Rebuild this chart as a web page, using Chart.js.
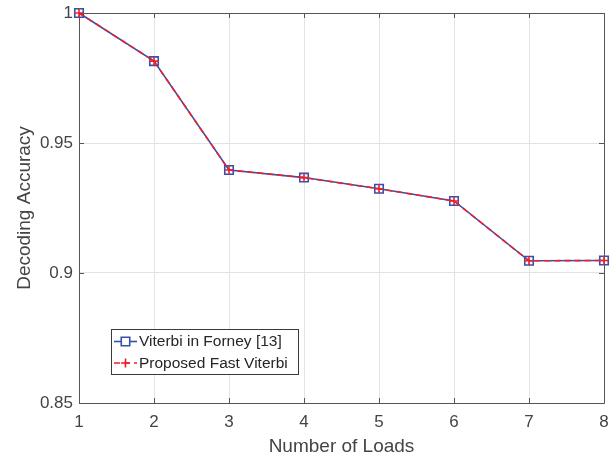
<!DOCTYPE html>
<html>
<head>
<meta charset="utf-8">
<script src="https://cdn.jsdelivr.net/npm/chart.js@4.4.1/dist/chart.umd.min.js"></script>
<style>
  html, body { margin: 0; padding: 0; background: #fff; }
</style>
</head>
<body>
<canvas id="chart" width="616" height="458"></canvas>
<script>
// values
const loads = [1, 2, 3, 4, 5, 6, 7, 8];
const viterbiForney = [1.0, 0.9815, 0.9396, 0.9367, 0.9324, 0.9277, 0.9047, 0.9048];
const fastViterbi = [1.0, 0.9815, 0.9396, 0.9367, 0.9324, 0.9277, 0.9047, 0.9048];
const seriesNames = ['Viterbi in Forney [13]', 'Proposed Fast Viterbi'];
const xTicks = [1, 2, 3, 4, 5, 6, 7, 8];
const yTicks = [0.85, 0.9, 0.95, 1];
const yTickLabels = ['0.85', '0.9', '0.95', '1'];

const blue = 'rgb(52, 82, 172)';
const red = 'rgb(240, 30, 40)';
const axisColor = '#555555';
const textColor = '#444444';
const fontFamily = '"Liberation Sans", Arial, Helvetica, sans-serif';

const ctx = document.getElementById('chart').getContext('2d');

function toPoints(xs, ys) {
  return xs.map((x, i) => ({ x: x, y: ys[i] }));
}

// box round the axes and inward tick marks, like the original
const framePlugin = {
  id: 'frame',
  beforeDatasetsDraw(chart) {
    const { ctx, chartArea: a, scales } = chart;
    const len = 5;
    ctx.save();
    ctx.strokeStyle = axisColor;
    ctx.lineWidth = 1;
    ctx.beginPath();
    ctx.rect(Math.round(a.left) + 0.5, Math.round(a.top) + 0.5,
             Math.round(a.right - a.left), Math.round(a.bottom - a.top));
    xTicks.forEach(v => {
      const px = Math.round(scales.x.getPixelForValue(v)) + 0.5;
      ctx.moveTo(px, a.bottom); ctx.lineTo(px, a.bottom - len);
      ctx.moveTo(px, a.top); ctx.lineTo(px, a.top + len);
    });
    yTicks.forEach(v => {
      const py = Math.round(scales.y.getPixelForValue(v)) + 0.5;
      ctx.moveTo(a.left, py); ctx.lineTo(a.left + len, py);
      ctx.moveTo(a.right, py); ctx.lineTo(a.right - len, py);
    });
    ctx.stroke();
    ctx.restore();
  }
};

// legend box sitting inside the plot, lower left
const legendPlugin = {
  id: 'insideLegend',
  afterDatasetsDraw(chart) {
    const c = chart.ctx;
    const box = { x: 111.5, y: 329.5, w: 187, h: 45 };
    c.save();
    c.fillStyle = '#ffffff';
    c.strokeStyle = '#3a3a3a';
    c.lineWidth = 1;
    c.fillRect(box.x, box.y, box.w, box.h);
    c.strokeRect(box.x, box.y, box.w, box.h);
    const rows = [341.5, 363];
    chart.data.datasets.forEach((ds) => {
      const idx = seriesNames.indexOf(ds.label);
      const y = rows[idx];
      c.save();
      c.strokeStyle = ds.borderColor;
      c.lineWidth = ds.borderWidth;
      c.setLineDash(ds.borderDash || []);
      c.beginPath();
      c.moveTo(114, y); c.lineTo(137, y);
      c.stroke();
      c.setLineDash([]);
      c.lineWidth = ds.pointBorderWidth;
      Chart.helpers.drawPoint(c, { pointStyle: ds.pointStyle, rotation: 0, radius: ds.pointRadius, borderWidth: ds.pointBorderWidth }, 125.5, y);
      c.restore();
      c.fillStyle = '#262626';
      c.font = '15.5px ' + fontFamily;
      c.textBaseline = 'middle';
      c.textAlign = 'left';
      c.fillText(ds.label, 139, y + 0.5);
    });
    c.restore();
  }
};

const chart = new Chart(ctx, {
  type: 'line',
  data: {
    datasets: [
      {
        label: seriesNames[0],
        data: toPoints(loads, viterbiForney),
        borderColor: blue,
        backgroundColor: 'transparent',
        borderWidth: 1.6,
        pointStyle: 'rect',
        pointRadius: 6,
        pointBorderWidth: 1.6,
        pointBorderColor: blue,
        pointBackgroundColor: 'transparent',
        fill: false,
        tension: 0,
        clip: false,
        order: 2
      },
      {
        label: seriesNames[1],
        data: toPoints(loads, fastViterbi),
        borderColor: red,
        backgroundColor: 'transparent',
        borderWidth: 1.6,
        borderDash: [6, 4],
        pointStyle: 'cross',
        pointRadius: 4.5,
        pointBorderWidth: 1.6,
        pointBorderColor: red,
        pointBackgroundColor: 'transparent',
        fill: false,
        tension: 0,
        clip: false,
        order: 1
      }
    ]
  },
  options: {
    responsive: false,
    animation: false,
    devicePixelRatio: 1,
    layout: { padding: { top: 13, right: 12, left: 0, bottom: 0 } },
    plugins: {
      legend: { display: false },
      tooltip: { enabled: false }
    },
    scales: {
      x: {
        type: 'linear',
        min: 1,
        max: 8,
        afterBuildTicks(axis) { axis.ticks = xTicks.map(v => ({ value: v })); },
        afterFit(axis) {
          axis.height = 55;
          axis.paddingLeft = 0;
          axis.paddingRight = 0;
        },
        grid: { color: '#e3e3e3', lineWidth: 1, drawTicks: false },
        border: { display: false },
        ticks: {
          color: textColor,
          font: { family: fontFamily, size: 17 },
          padding: 9,
          maxRotation: 0,
          callback: v => String(v)
        },
        title: {
          display: true,
          text: 'Number of Loads',
          color: textColor,
          font: { family: fontFamily, size: 19 },
          padding: { top: 0, bottom: 0 }
        }
      },
      y: {
        type: 'linear',
        min: 0.85,
        max: 1,
        afterBuildTicks(axis) { axis.ticks = yTicks.map(v => ({ value: v })); },
        afterFit(axis) {
          axis.width = 79;
          axis.paddingTop = 0;
          axis.paddingBottom = 0;
        },
        grid: { color: '#e3e3e3', lineWidth: 1, drawTicks: false },
        border: { display: false },
        ticks: {
          color: textColor,
          font: { family: fontFamily, size: 17 },
          padding: 6,
          callback: (v) => yTickLabels[yTicks.findIndex(t => Math.abs(t - v) < 1e-9)]
        },
        title: {
          display: true,
          text: 'Decoding Accuracy',
          color: textColor,
          font: { family: fontFamily, size: 19 },
          padding: { top: 13, bottom: 0 }
        }
      }
    }
  },
  plugins: [framePlugin, legendPlugin]
});
</script>
</body>
</html>
